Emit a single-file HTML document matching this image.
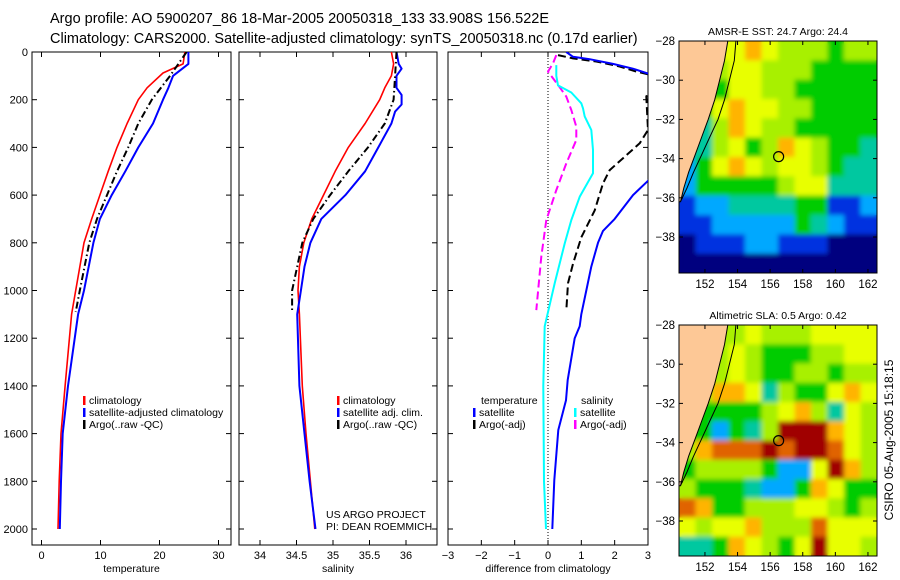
<!DOCTYPE html>
<html><head><meta charset="utf-8">
<style>
html,body{margin:0;padding:0;background:#fff;}
svg{display:block;font-family:"Liberation Sans",sans-serif;}
text{fill:#000;}
</style></head>
<body>
<svg id="fig" width="900" height="580" viewBox="0 0 900 580">
<defs>
<filter id="smooth" x="-5%" y="-5%" width="110%" height="110%"><feGaussianBlur stdDeviation="2.5"/></filter>
</defs>
<text x="50" y="23" font-size="14.5">Argo profile: AO 5900207_86 18-Mar-2005 20050318_133 33.908S 156.522E</text>
<text x="50" y="43" font-size="14.5">Climatology: CARS2000. Satellite-adjusted climatology: synTS_20050318.nc (0.17d earlier)</text>
<g id="panels"></g>
<g id="maps"></g>
<text transform="translate(893,440) rotate(-90)" text-anchor="middle" font-size="12">CSIRO 05-Aug-2005 15:18:15</text>
</svg>
<script>
// ---------- profile data ----------
const depthTicks = [0,200,400,600,800,1000,1200,1400,1600,1800,2000];
const climDepth = [0,50,88,150,200,300,400,500,600,700,800,1000,1100,1400,1600,1800,2000];
const tempClim = [24.3,24.0,20.6,17.9,16.4,14.5,12.8,11.3,9.9,8.5,7.2,5.8,5.1,4.0,3.3,3.0,2.8];
const satDepth = [0,50,100,150,200,300,400,500,600,700,800,1000,1100,1400,1600,1800,2000];
const tempSat = [24.9,24.9,22.3,21.5,20.6,18.9,16.4,14.2,11.9,9.9,8.8,7.2,6.2,4.5,3.6,3.3,3.1];
const argoDepth = [0,100,200,300,400,500,600,700,800,1000,1090];
const tempArgo = [24.6,21.8,18.7,16.4,14.7,12.8,11.1,9.4,8.1,6.5,5.8];
const salDepthClim = [0,50,100,150,200,300,400,500,600,700,800,900,1000,1100,1400,1600,1800,2000];
const salClim = [35.80,35.83,35.80,35.71,35.64,35.44,35.21,35.03,34.87,34.71,34.60,34.54,34.52,34.54,34.58,34.63,34.69,34.75];
const salDepthSat = [0,50,70,100,150,180,220,250,300,400,500,600,700,800,900,1000,1100,1400,1600,1800,2000];
const salSat = [35.87,35.90,35.94,35.87,35.87,35.94,35.94,35.85,35.80,35.62,35.44,35.17,34.84,34.69,34.61,34.56,34.51,34.54,34.61,34.68,34.76];
const salArgo = [35.87,35.85,35.83,35.71,35.48,35.21,34.96,34.73,34.58,34.44,34.44];
// differences
const dTsatDepth = [0,20,30,50,70,90,200,300,400,500,540,600,700,750,800,900,1000,1100,1150,1200,1375,1460,1585,1795,2000];
const dTsat = [0.55,0.75,1.25,1.95,2.55,3.0,4.5,4.5,4.0,3.3,3.0,2.55,2.0,1.65,1.5,1.3,1.15,1.0,0.95,0.8,0.59,0.54,0.31,0.19,0.13];
const dSsatDepth = [55,100,140,170,215,236,270,327,410,508,607,705,803,970,1150,1400,1800,2000];
const dSsat = [0.25,0.25,0.3,0.7,1.0,1.05,1.1,1.3,1.35,1.35,0.95,0.7,0.5,0.2,-0.1,-0.14,-0.12,-0.06];
const dTargoDepth = [13,27,40,61,82,100,187,327,383,439,495,551,664,777,888,970,1085];
const dTargo = [0.3,0.75,1.45,2.15,2.65,3.2,2.95,3.0,2.75,2.3,1.85,1.65,1.4,1.0,0.75,0.6,0.55];
const dSargoDepth = [13,48,82,138,187,243,313,369,467,579,705,858,1082];
const dSargo = [0.25,0.15,0.0,0.3,0.55,0.7,0.85,0.85,0.55,0.25,-0.05,-0.2,-0.35];
const tempTicks = [0,10,20,30];
const salTicks = [34,34.5,35,35.5,36];
const diffTicks = [-3,-2,-1,0,1,2,3];

// ---------- map data (color index per cell, L = land) ----------
const sstRows = [
"LLL676555455","LL5665554444","LL4665544444","L46766554444","L35765544444",
"L35645765443","246765665433","244444566333","122333344112","112222243211",
"011122111000","000000000000"];
const slaRows = [
"LLL565556666","LL5654445566","LL5654455455","L57763544676","L44445675365",
"L42435999765","578889899865","455554226975","544432247644","874455566545",
"656675558666","334765469665"];
const palette = ["#00007f","#0030e0","#00a8ff","#00c8a0","#00cc00","#a8f000","#e8ff00","#ffb400","#e06400","#a00000"];
const coastLon = [153.4,153.2,152.9,152.6,152.2,151.8,151.4,151.0,150.7,150.5];
const coastLat = [-28,-29,-30,-31,-32,-32.9,-33.8,-34.7,-35.5,-36.2];
const isoLon = [153.9,153.8,153.5,153.2,152.8,152.3,151.8,151.3,150.9,150.5];

const NS="http://www.w3.org/2000/svg";
const svgEl=document.getElementById('fig');
function mk(tag,attrs,parent){const e=document.createElementNS(NS,tag);for(const k in attrs)e.setAttribute(k,attrs[k]);(parent||svgEl).appendChild(e);return e;}
const yD = d => 52 + d*0.2385;
const plotTop=52, plotBot=545;
const panelsG=document.getElementById('panels');

function panel(name,x0,x1,xf,ticks,xlabel,showY){
  const g=mk('g',{},panelsG);
  
  
  const r=mk('rect',{x:x0,y:plotTop,width:x1-x0,height:plotBot-plotTop,fill:'#fff',stroke:'#000','stroke-width':1},g);
  
  
  ticks.forEach(t=>{
    const x=xf(t);
    mk('line',{x1:x,x2:x,y1:plotTop,y2:plotTop+5,stroke:'#000'},g);
    mk('line',{x1:x,x2:x,y1:plotBot,y2:plotBot-5,stroke:'#000'},g);
    const tx=mk('text',{x:x,y:plotBot+14,'text-anchor':'middle','font-size':11},g);
    tx.textContent=String(t).replace('-','\u2212');
    
    
  });
  depthTicks.forEach(d=>{
    const y=yD(d);
    mk('line',{x1:x0,x2:x0+5,y1:y,y2:y,stroke:'#000'},g);
    mk('line',{x1:x1,x2:x1-5,y1:y,y2:y,stroke:'#000'},g);
    if(showY){
      const tx=mk('text',{x:x0-4,y:y+4,'text-anchor':'end','font-size':11},g);
      tx.textContent=d;
      
      
    }
  });
  const xl=mk('text',{x:(x0+x1)/2,y:plotBot+27,'text-anchor':'middle','font-size':10.5},g);
  xl.textContent=xlabel;
  
  
  const cp=mk('clipPath',{id:'clip-'+name},g);
  mk('rect',{x:x0,y:plotTop,width:x1-x0,height:plotBot-plotTop},cp);
  const lines=mk('g',{'clip-path':'url(#clip-'+name+')'},g);
  return lines;
}
function series(g,name,depths,vals,xf,color,w,dash){
  const pts=depths.map((d,i)=>xf(vals[i]).toFixed(1)+','+yD(d).toFixed(1)).join(' ');
  const p=mk('polyline',{points:pts,fill:'none',stroke:color,'stroke-width':w,'stroke-linejoin':'round'},g);
  if(dash)p.setAttribute('stroke-dasharray',dash);
  
  
}
function legend(g,x,y,color,label,name){
  mk('rect',{x:x,y:y-8,width:2.5,height:9,fill:color},g);
  const t=mk('text',{x:x+6,y:y,'font-size':10.5},g);
  t.textContent=label;
  
  
}

const xT=t=>41.5+t*5.9, xS=s=>260+(s-34)*73, xDf=d=>548+d*33.33;
const g1=panel('temperature-panel',32,231,xT,tempTicks,'temperature',true);
series(g1,'temp-climatology-line',climDepth,tempClim,xT,'#ff0000',1.6);
series(g1,'temp-satellite-line',satDepth,tempSat,xT,'#0000ff',2);
series(g1,'temp-argo-line',argoDepth,tempArgo,xT,'#000',2,'7,3,1.5,3');
legend(panelsG,83,404,'#ff0000','climatology','legend-climatology');
legend(panelsG,83,416,'#0000ff','satellite-adjusted climatology','legend-satellite');
legend(panelsG,83,428,'#000','Argo(..raw -QC)','legend-argo');

const g2=panel('salinity-panel',239,437,xS,salTicks,'salinity',false);
series(g2,'sal-climatology-line',salDepthClim,salClim,xS,'#ff0000',1.6);
series(g2,'sal-satellite-line',salDepthSat,salSat,xS,'#0000ff',2);
series(g2,'sal-argo-line',argoDepth,salArgo,xS,'#000',2,'7,3,1.5,3');
legend(panelsG,337,404,'#ff0000','climatology','legend2-climatology');
legend(panelsG,337,416,'#0000ff','satellite adj. clim.','legend2-satellite');
legend(panelsG,337,428,'#000','Argo(..raw -QC)','legend2-argo');
const t1=mk('text',{x:326,y:518,'font-size':10.5},panelsG);t1.textContent='US ARGO PROJECT';


const t2=mk('text',{x:326,y:530,'font-size':10.5},panelsG);t2.textContent='PI: DEAN ROEMMICH';



const g3=panel('difference-panel',448,648,xDf,diffTicks,'difference from climatology',false);
mk('line',{x1:xDf(0),x2:xDf(0),y1:plotTop,y2:plotBot,stroke:'#000','stroke-dasharray':'1,2'},g3);
series(g3,'diff-sal-argo-line',dSargoDepth,dSargo,xDf,'#ff00ff',2,'8,4');
series(g3,'diff-sal-satellite-line',dSsatDepth,dSsat,xDf,'#00ffff',2);
series(g3,'diff-temp-argo-line',dTargoDepth,dTargo,xDf,'#000',2,'8,4');
series(g3,'diff-temp-satellite-line',dTsatDepth,dTsat,xDf,'#0000ff',2);
const tt=mk('text',{x:481,y:404,'font-size':10.5},panelsG);tt.textContent='temperature';


legend(panelsG,473,416,'#0000ff','satellite','legend3-temp-satellite');
legend(panelsG,473,428,'#000','Argo(-adj)','legend3-temp-argo');
const ts=mk('text',{x:581,y:404,'font-size':10.5},panelsG);ts.textContent='salinity';


legend(panelsG,574,416,'#00ffff','satellite','legend3-sal-satellite');
legend(panelsG,574,428,'#ff00ff','Argo(-adj)','legend3-sal-argo');

// ---------- maps ----------
const mapsG=document.getElementById('maps');
function drawMap(name,title,rows,yTop,yBot){
  const x0=679,x1=877;
  const g=mk('g',{},mapsG);
  
  
  const lonX=l=>680.5+(l-150.5)*16.3;
  const latY=l=>yTop+(-28-l)*19.6;
  const cw=(x1-x0)/12, ch=(yBot-yTop)/12;
  const cpid='mapclip-'+name;
  const cpm=mk('clipPath',{id:cpid},g);
  mk('rect',{x:x0,y:yTop,width:x1-x0,height:yBot-yTop},cpm);
  const field=mk('g',{'clip-path':'url(#'+cpid+')'},g);
  
  
  const base=mk('g',{},field);
  const cells=mk('g',{filter:'url(#smooth)'},field);
  rows.forEach((row,r)=>{
    for(let c=0;c<12;c++){
      const v=row[c];
      const col=v==='L'?(c+1<12&&row[c+1]!=='L'?palette[+row[c+1]]:'#fdc896'):palette[+v];
      [base,cells].forEach(layer=>{
        const cell=mk('rect',{x:(x0+c*cw).toFixed(2),y:(yTop+r*ch).toFixed(2),width:(cw+0.6).toFixed(2),height:(ch+0.6).toFixed(2),fill:col},layer);
        
        
      });
    }
  });
  const cp=coastLon.map((l,i)=>lonX(l).toFixed(1)+','+latY(coastLat[i]).toFixed(1));
  const land=mk('polygon',{points:x0+','+yTop+' '+cp.join(' ')+' '+x0+','+latY(-36.2).toFixed(1),fill:'#fdc896',stroke:'#000','stroke-width':1},g);
  
  
  const iso=isoLon.map((l,i)=>lonX(l).toFixed(1)+','+latY(coastLat[i]).toFixed(1)).join(' ');
  mk('polyline',{points:iso,fill:'none',stroke:'#000','stroke-width':1},g);
  const fr=mk('rect',{x:x0,y:yTop,width:x1-x0,height:yBot-yTop,fill:'none',stroke:'#000'},g);
  
  
  const ci=mk('circle',{cx:lonX(156.52),cy:latY(-33.9),r:5,fill:'none',stroke:'#000','stroke-width':1.2},g);
  
  
  [152,154,156,158,160,162].forEach(l=>{
    const x=lonX(l);
    mk('line',{x1:x,x2:x,y1:yTop,y2:yTop+4,stroke:'#000'},g);
    mk('line',{x1:x,x2:x,y1:yBot,y2:yBot-4,stroke:'#000'},g);
    const t=mk('text',{x:x,y:yBot+15,'text-anchor':'middle','font-size':11.5},g);
    t.textContent=l;
    
    
  });
  [-28,-30,-32,-34,-36,-38].forEach(l=>{
    const y=latY(l);
    mk('line',{x1:x0,x2:x0+4,y1:y,y2:y,stroke:'#000'},g);
    mk('line',{x1:x1,x2:x1-4,y1:y,y2:y,stroke:'#000'},g);
    const t=mk('text',{x:x0-4,y:y+4,'text-anchor':'end','font-size':11.5},g);
    t.textContent='\u2212'+(-l);
    
    
  });
  const tt=mk('text',{x:(x0+x1)/2,y:yTop-6,'text-anchor':'middle','font-size':10.5},g);
  tt.textContent=title;
  
  
}
drawMap('sst-map','AMSR-E SST: 24.7 Argo: 24.4',sstRows,41,273);
drawMap('sla-map','Altimetric SLA: 0.5 Argo: 0.42',slaRows,325,556);
</script>
</body></html>
